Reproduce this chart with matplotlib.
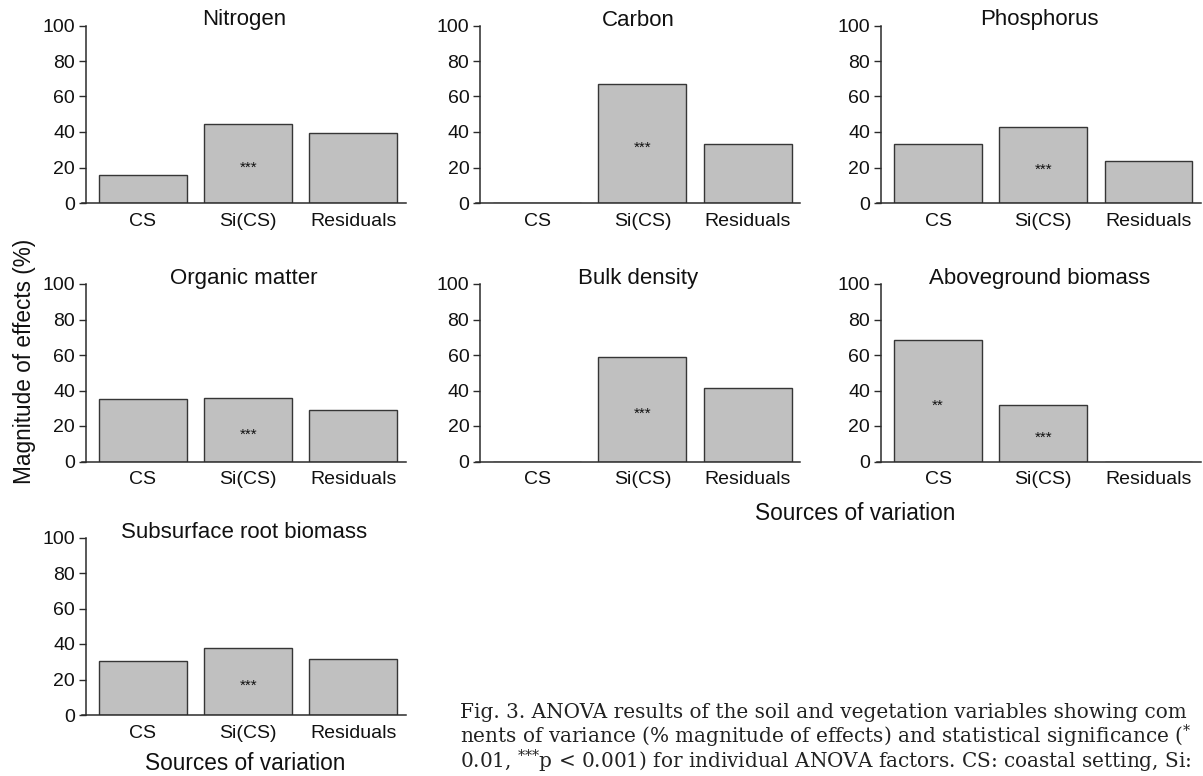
#!/usr/bin/env python3
"""
plot.py - ANOVA components of variance (magnitude of effects) per variable
"""

import matplotlib
matplotlib.use("Agg")
import matplotlib.pyplot as plt

# Data
CATEGORIES = ["CS", "Si(CS)", "Residuals"]
TITLES = ["Nitrogen", "Carbon", "Phosphorus", "Organic matter",
          "Bulk density", "Aboveground biomass", "Subsurface root biomass"]

nitrogen = [16.0, 44.5, 39.5]
carbon = [0.0, 67.0, 33.0]
phosphorus = [33.5, 42.7, 23.8]
organic_matter = [35.4, 35.6, 29.0]
bulk_density = [0.0, 58.8, 41.2]
aboveground = [68.2, 31.8, 0.0]
subsurface = [30.2, 38.0, 31.8]

sig_nitrogen = ["", "***", ""]
sig_carbon = ["", "***", ""]
sig_phosphorus = ["", "***", ""]
sig_organic = ["", "***", ""]
sig_bulk = ["", "***", ""]
sig_above = ["**", "***", ""]
sig_subsurface = ["", "***", ""]

Y_TICKS = [0, 20, 40, 60, 80, 100]

# caption as far as it is visible on the cropped page
CAPTION = [
    "Fig. 3. ANOVA results of the soil and vegetation variables showing com",
    "nents of variance (% magnitude of effects) and statistical significance ($^{*}$",
    "0.01, $^{{*}{*}{*}}$p < 0.001) for individual ANOVA factors. CS: coastal setting, Si:",
]

# Config
SANS = "Liberation Sans"
SERIF = "DejaVu Serif"
BAR_FILL = "#c0c0c0"
BAR_EDGE = "#363636"
AXIS_COLOR = "#2b2b2b"

W, H = 1203, 776

plt.rcParams["mathtext.fontset"] = "dejavuserif"


def fig_box(left_px, bottom_px, width_px=324, height_px=177.5):
    # convert pixel box (top-left origin) into figure fractions
    return [left_px / W, (H - bottom_px) / H, width_px / W, height_px / H]


def draw_panel(ax, title, values, sigs):
    x = list(range(len(CATEGORIES)))
    ax.bar(x, values, width=0.835, color=BAR_FILL, edgecolor=BAR_EDGE,
           linewidth=1.0, zorder=2)

    for xi, v, s in zip(x, values, sigs):
        if s:
            ax.text(xi, v / 2 - 2.5, s, ha="center", va="center",
                    fontsize=11, family=SANS, color="#111111", zorder=3)

    ax.set_xlim(-0.58, 2.50)
    ax.set_ylim(0, 100)
    ax.set_yticks(Y_TICKS)
    ax.set_xticks(x)
    ax.set_xticklabels(CATEGORIES)

    for side in ("top", "right"):
        ax.spines[side].set_visible(False)
    ax.spines["left"].set_position(("data", -0.54))
    for side in ("left", "bottom"):
        ax.spines[side].set_color(AXIS_COLOR)
        ax.spines[side].set_linewidth(1.1)

    ax.tick_params(axis="y", length=5, width=1.0, color=AXIS_COLOR,
                   pad=3, labelsize=14, labelcolor="#111111")
    ax.tick_params(axis="x", length=0, pad=7, labelsize=14, labelcolor="#111111")
    for lab in ax.get_xticklabels() + ax.get_yticklabels():
        lab.set_family(SANS)

    # y given explicitly so matplotlib does not push the title above the "100" label
    ax.set_title(title, fontsize=16, family=SANS, pad=0, y=1.0, color="#111111")
    ax.patch.set_alpha(0)


def main():
    fig = plt.figure(figsize=(W / 100, H / 100), dpi=100)

    panels = [
        (fig_box(81.9, 203), TITLES[0], nitrogen, sig_nitrogen),
        (fig_box(476.2, 203), TITLES[1], carbon, sig_carbon),
        (fig_box(877.1, 203), TITLES[2], phosphorus, sig_phosphorus),
        (fig_box(81.9, 461.5), TITLES[3], organic_matter, sig_organic),
        (fig_box(476.2, 461.5), TITLES[4], bulk_density, sig_bulk),
        (fig_box(877.1, 461.5), TITLES[5], aboveground, sig_above),
        (fig_box(81.9, 715), TITLES[6], subsurface, sig_subsurface),
    ]
    for box, title, vals, sigs in panels:
        ax = fig.add_axes(box)
        draw_panel(ax, title, vals, sigs)

    # Shared axis labels
    fig.text(25 / W, 1 - 361 / H, "Magnitude of effects (%)", rotation=90,
             ha="center", va="center", fontsize=16.3, family=SANS, color="#111111")
    fig.text(855 / W, 1 - 520 / H, "Sources of variation", ha="center",
             va="baseline", fontsize=16.3, family=SANS, color="#111111")
    fig.text(245 / W, 1 - 770 / H, "Sources of variation", ha="center",
             va="baseline", fontsize=16.3, family=SANS, color="#111111")

    # Caption
    for i, line in enumerate(CAPTION):
        fig.text(460 / W, 1 - (718.3 + 25 * i) / H, line, ha="left",
                 va="baseline", fontsize=14.4, family=SERIF, color="#222222")

    fig.savefig("out.png", dpi=100, facecolor="white")
    plt.close(fig)


if __name__ == "__main__":
    main()
